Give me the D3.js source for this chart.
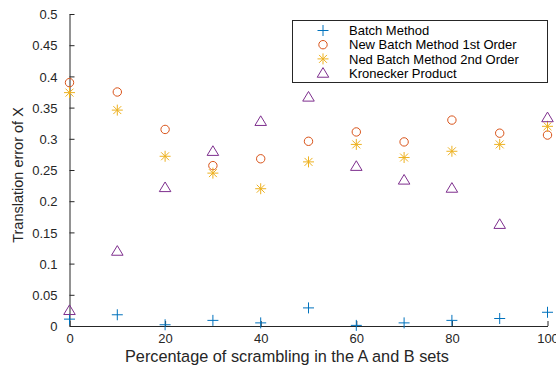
<!DOCTYPE html>
<html>
<head>
<meta charset="utf-8">
<script src="https://cdn.jsdelivr.net/npm/d3@7/dist/d3.min.js"></script>
<style>
  body { margin: 0; background: #fff; }
  svg { display: block; font-family: "Liberation Sans", Arial, Helvetica, sans-serif; }
</style>
</head>
<body>
<div id="chart"></div>
<script>
"use strict";

// data
const scramble = [0, 10, 20, 30, 40, 50, 60, 70, 80, 90, 100];
const batch    = [0.011, 0.018, 0.002, 0.009, 0.005, 0.029, 0.001, 0.005, 0.009, 0.012, 0.022];
const newBatch1 = [0.390, 0.375, 0.315, 0.257, 0.268, 0.296, 0.311, 0.295, 0.330, 0.309, 0.306];
const nedBatch2 = [0.374, 0.346, 0.272, 0.245, 0.220, 0.263, 0.291, 0.270, 0.280, 0.291, 0.320];
const kronecker = [0.025, 0.120, 0.222, 0.280, 0.328, 0.367, 0.256, 0.234, 0.221, 0.163, 0.334];
const xTicks = [0, 20, 40, 60, 80, 100];
const yTicks = [0, 0.05, 0.1, 0.15, 0.2, 0.25, 0.3, 0.35, 0.4, 0.45, 0.5];

const W = 556, H = 367;
const margin = {left: 69.5, right: 8.5, top: 14, bottom: 41};

const svg = d3.select('#chart').append('svg')
  .attr('width', W).attr('height', H);

const x = d3.scaleLinear().domain([0, 100]).range([margin.left, W - margin.right]);
const y = d3.scaleLinear().domain([0, 0.5]).range([H - margin.bottom, margin.top]);

// marker paths, centred on 0,0
const markers = {
  plus: s => `M${-s},0H${s}M0,${-s}V${s}`,
  circle: s => `M${s},0A${s},${s} 0 1,1 ${-s},0A${s},${s} 0 1,1 ${s},0Z`,
  star: s => {
    let d = s * 0.72;
    return `M${-s},0H${s}M0,${-s}V${s}M${-d},${-d}L${d},${d}M${-d},${d}L${d},${-d}`;
  },
  tri: s => `M0,${-s}L${s * 1.05},${s * 0.75}L${-s * 1.05},${s * 0.75}Z`
};

const series = [
  {name: 'Batch Method', vals: batch, color: '#0072BD', m: 'plus', s: 5.5},
  {name: 'New Batch Method 1st Order', vals: newBatch1, color: '#D95319', m: 'circle', s: 4.2},
  {name: 'Ned Batch Method 2nd Order', vals: nedBatch2, color: '#EDB120', m: 'star', s: 5.5},
  {name: 'Kronecker Product', vals: kronecker, color: '#7E2F8E', m: 'tri', s: 5.5}
];

// axes (matlab style, ticks inward)
const axCol = '#262626';
const xAxis = d3.axisBottom(x).tickValues(xTicks).tickSizeInner(-5).tickSizeOuter(0).tickPadding(8);
const yAxis = d3.axisLeft(y).tickValues(yTicks).tickSizeInner(-5).tickSizeOuter(0).tickPadding(12)
  .tickFormat(d => d3.format('')(+d.toFixed(2)));

const gx = svg.append('g').attr('transform', `translate(0,${y(0)})`).call(xAxis);
const gy = svg.append('g').attr('transform', `translate(${x(0)},0)`).call(yAxis);
[gx, gy].forEach(g => {
  g.select('.domain').attr('stroke', axCol).attr('stroke-width', 1);
  g.selectAll('.tick line').attr('stroke', axCol);
  g.selectAll('.tick text').attr('fill', axCol).attr('font-size', 13)
    .attr('font-family', '"Liberation Sans", Arial, sans-serif');
});
gy.selectAll('.tick text').attr('dy', '0.36em');

// labels
svg.append('text')
  .attr('x', 287).attr('y', 362)
  .attr('text-anchor', 'middle').attr('font-size', 16.3).attr('fill', axCol)
  .text('Percentage of scrambling in the A and B sets');

svg.append('text')
  .attr('transform', `translate(23,175) rotate(-90)`)
  .attr('text-anchor', 'middle').attr('font-size', 14.5).attr('fill', axCol)
  .text('Translation error of X');

// points
series.forEach(sr => {
  svg.append('g').selectAll('path')
    .data(sr.vals)
    .join('path')
    .attr('transform', (v, i) => `translate(${x(scramble[i])},${y(v)})`)
    .attr('d', markers[sr.m](sr.s))
    .attr('fill', 'none')
    .attr('stroke', sr.color)
    .attr('stroke-width', 1);
});

// legend
const lg = svg.append('g');
lg.append('rect')
  .attr('x', 292.5).attr('y', 20.5).attr('width', 255).attr('height', 62)
  .attr('fill', '#fff').attr('stroke', axCol).attr('stroke-width', 1);
series.forEach((sr, i) => {
  let cy = 30.5 + i * 14.2;
  lg.append('path')
    .attr('transform', `translate(323,${cy})`)
    .attr('d', markers[sr.m](sr.s))
    .attr('fill', 'none').attr('stroke', sr.color);
  lg.append('text')
    .attr('x', 349).attr('y', cy + 4.6)
    .attr('font-size', 13).attr('fill', '#000')
    .text(sr.name);
});
</script>
</body>
</html>
